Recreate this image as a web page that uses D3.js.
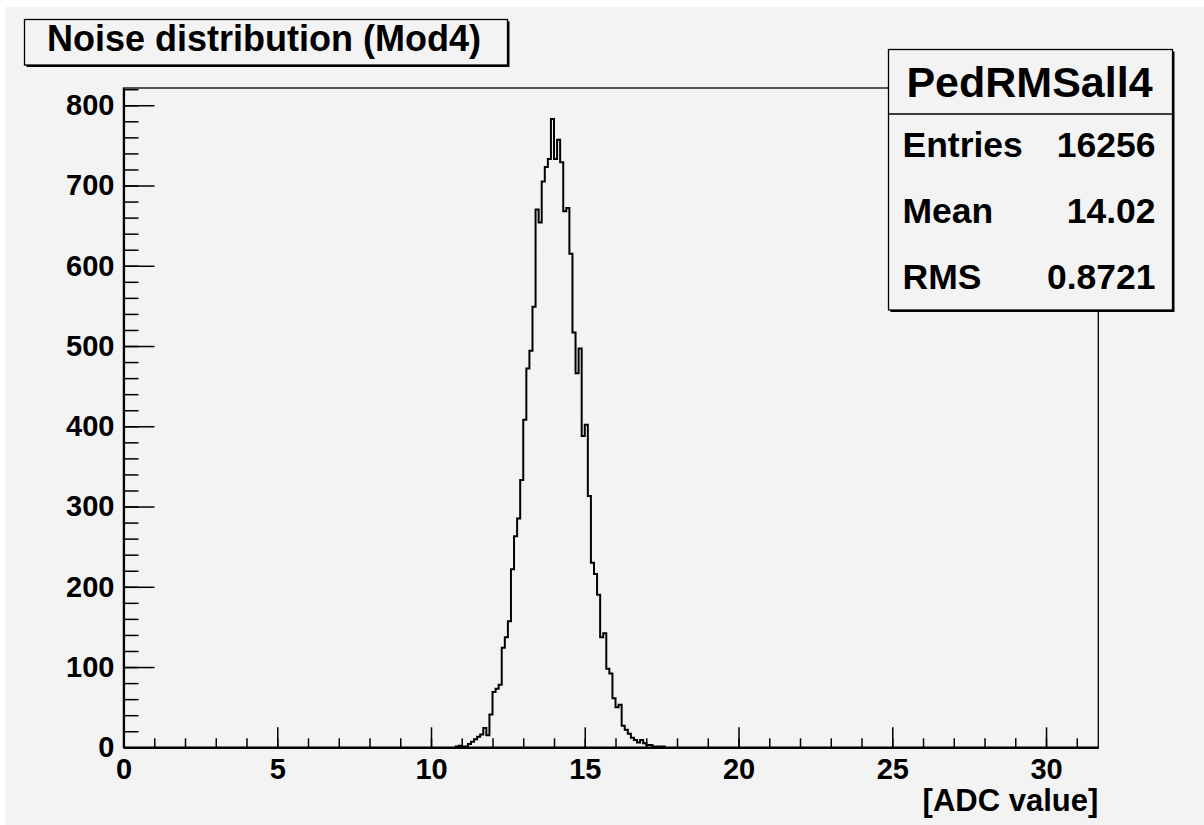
<!DOCTYPE html>
<html>
<head>
    <meta charset='utf-8'>
    <title>Noise distribution (Mod4)</title>
    <script src="https://cdn.jsdelivr.net/npm/d3@7"></script>
    <style type="text/css">
        body { margin: 0; background: #fff; }
        text { font-family: "Liberation Sans", Arial, sans-serif; font-weight: bold; fill: #000; }
        .axis path, .axis line { stroke: #000; }
    </style>
</head>
<body>
    <div id="svgContainer"></div>

    <script type="text/javascript">

        // histogram: bins of 0.1 ADC, first non-empty bin starts at 10.8
        const binStart = 10.8;
        const binWidth = 0.1;
        const counts = [1, 2, 1, 1, 4, 7, 10, 13, 16, 24, 15, 41, 69, 73, 78, 124, 137, 157, 222, 263, 285, 333,
                        408, 472, 494, 549, 670, 654, 705, 723, 733, 783,
                        733, 757, 729, 668, 672, 615, 517, 466, 497, 388,
                        402, 313, 230, 216, 190, 137, 142, 98, 92, 61,
                        50, 53, 27, 22, 17, 12, 9, 6, 9, 5, 3, 3, 1, 1, 1, 1];

        const xTicks = [0, 5, 10, 15, 20, 25, 30];
        const yTicks = [0, 100, 200, 300, 400, 500, 600, 700, 800];
        const statLabels = ["Entries", "Mean", "RMS"];
        const statValues = ["16256", "14.02", "0.8721"];
        const histName = "PedRMSall4";
        const title = "Noise distribution (Mod4)";
        const xTitle = "[ADC value]";

        const width = 1204;
        const height = 825;
        const bg = "#f3f3f3";

        const svg = d3.select("#svgContainer").append("svg")
            .attr("width", width)
            .attr("height", height);

        svg.append("rect")
            .attr("x", 5).attr("y", 7)
            .attr("width", width - 5).attr("height", height - 7)
            .attr("fill", bg);

        const x = d3.scaleLinear().domain([0, 31.7]).range([123.5, 1098.3]);
        const y = d3.scaleLinear().domain([0, 821.5]).range([747.3, 88]);

        // frame
        svg.append("rect")
            .attr("x", x(0)).attr("y", y(821.5))
            .attr("width", x(31.7) - x(0)).attr("height", y(0) - y(821.5))
            .attr("fill", "none").attr("stroke", "#000").attr("stroke-width", 1.3);

        // histogram outline
        const pts = [[binStart, 0]];
        counts.forEach((c, i) => {
            const lo = binStart + i * binWidth;
            pts.push([lo, c], [lo + binWidth, c]);
        });
        pts.push([binStart + counts.length * binWidth, 0]);

        const line = d3.line().x(d => x(d[0])).y(d => y(d[1]));
        svg.append("path")
            .attr("d", line(pts))
            .attr("fill", "none")
            .attr("stroke", "#000")
            .attr("stroke-width", 2)
            .attr("stroke-linejoin", "miter");

        // y axis
        const yMinor = d3.range(0, 821, 20);
        svg.append("g").attr("class", "axis")
            .attr("transform", `translate(${x(0)},0)`)
            .call(d3.axisLeft(y).tickValues(yMinor).tickSize(-15).tickSizeOuter(0).tickFormat(""))
            .call(g => g.select(".domain").remove())
            .selectAll("line").attr("stroke-width", 1.5);

        svg.append("g").attr("class", "axis")
            .attr("transform", `translate(${x(0)},0)`)
            .call(d3.axisLeft(y).tickValues(yTicks).tickSize(-31).tickSizeOuter(0).tickPadding(9))
            .call(g => g.select(".domain").attr("stroke-width", 2.2))
            .call(g => g.selectAll("line").attr("stroke-width", 1.5))
            .call(g => g.selectAll("text").style("font-size", "29px"));

        // x axis
        const xMinor = d3.range(0, 32, 1);
        svg.append("g").attr("class", "axis")
            .attr("transform", `translate(0,${y(0)})`)
            .call(d3.axisBottom(x).tickValues(xMinor).tickSize(-9).tickSizeOuter(0).tickFormat(""))
            .call(g => g.select(".domain").remove())
            .selectAll("line").attr("stroke-width", 1.5);

        svg.append("g").attr("class", "axis")
            .attr("transform", `translate(0,${y(0)})`)
            .call(d3.axisBottom(x).tickValues(xTicks).tickSize(-20).tickSizeOuter(0).tickPadding(11))
            .call(g => g.select(".domain").attr("stroke-width", 2.2))
            .call(g => g.selectAll("line").attr("stroke-width", 1.5))
            .call(g => g.selectAll("text").style("font-size", "29px"));

        svg.append("text")
            .attr("x", x(31.7)).attr("y", 811)
            .attr("text-anchor", "end")
            .style("font-size", "31px")
            .text(xTitle);

        // title box
        const tb = { x: 24.5, y: 19.5, w: 483, h: 45.5 };
        svg.append("rect").attr("x", tb.x + 2).attr("y", tb.y + 2)
            .attr("width", tb.w).attr("height", tb.h).attr("fill", "#000");
        svg.append("rect").attr("x", tb.x).attr("y", tb.y)
            .attr("width", tb.w).attr("height", tb.h)
            .attr("fill", bg).attr("stroke", "#000").attr("stroke-width", 1.3);
        svg.append("text")
            .attr("x", tb.x + tb.w / 2 - 2).attr("y", 51)
            .attr("text-anchor", "middle")
            .style("font-size", "36px")
            .text(title);

        // stats box
        const sb = { x: 888.5, y: 49.5, w: 284, h: 260.5 };
        svg.append("rect").attr("x", sb.x + 2).attr("y", sb.y + 2)
            .attr("width", sb.w).attr("height", sb.h).attr("fill", "#000");
        svg.append("rect").attr("x", sb.x).attr("y", sb.y)
            .attr("width", sb.w).attr("height", sb.h)
            .attr("fill", bg).attr("stroke", "#000").attr("stroke-width", 1.3);
        svg.append("line")
            .attr("x1", sb.x).attr("x2", sb.x + sb.w)
            .attr("y1", 114).attr("y2", 114)
            .attr("stroke", "#000").attr("stroke-width", 1.3);
        svg.append("text")
            .attr("x", sb.x + sb.w / 2 - 1).attr("y", 97)
            .attr("text-anchor", "middle")
            .style("font-size", "43px")
            .text(histName);

        const rowY = [157, 223, 289];
        statLabels.forEach((s, i) => {
            svg.append("text")
                .attr("x", 902.5).attr("y", rowY[i])
                .style("font-size", "35.5px")
                .text(s);
            svg.append("text")
                .attr("x", 1155.5).attr("y", rowY[i])
                .attr("text-anchor", "end")
                .style("font-size", "35.5px")
                .text(statValues[i]);
        });

    </script>
</body>
</html>
